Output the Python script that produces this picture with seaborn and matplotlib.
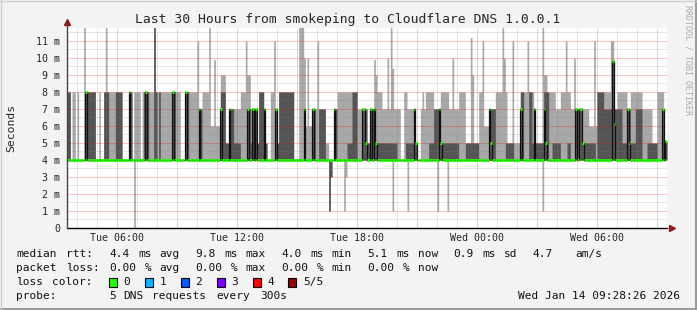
import re
import numpy as np
import matplotlib
matplotlib.use("Agg")
import matplotlib.pyplot as plt
from matplotlib.patches import Rectangle
from matplotlib.lines import Line2D
import seaborn as sns

# ---------------- data (ms, 5-minute steps) ----------------
START_HOUR = 3.517          # first step, hours after Tue 00:00
STEP_MIN = 5
BASE_RTT = 4.0              # smoke floor (fastest pings)

seg_steps = [2, 1, 2, 1, 1, 3, 1, 1, 5, 2,
             1, 2, 1, 1, 1, 4, 4, 4, 1, 1,
             1, 4, 1, 1, 1, 1, 1, 3, 1, 1,
             1, 1, 7, 1, 1, 3, 3, 1, 1, 5,
             1, 1, 1, 4, 1, 2, 1, 3, 1, 2,
             2, 1, 2, 4, 3, 1, 1, 1, 1, 1,
             1, 1, 1, 3, 1, 1, 2, 2, 1, 1,
             1, 9, 3, 3, 1, 1, 1, 2, 1, 1,
             1, 1, 4, 2, 3, 1, 1, 6, 3, 3,
             3, 2,
             1, 2, 1, 1, 1, 1, 3, 3, 1, 1,
             1, 1, 2, 2, 2, 1, 1, 4, 1, 1,
             2, 1, 1, 1, 2, 3, 3, 1, 1, 4,
             2, 1, 3, 4, 3, 1, 1, 3, 2, 1,
             3, 1, 1, 2, 4, 1, 1, 1, 3, 1,
             4, 1, 1, 2, 1, 2, 1, 1, 4, 1,
             1, 1, 1, 2, 2, 3, 3, 1, 2, 2,
             1, 1, 1, 2, 1, 3, 3, 1, 1, 4,
             4, 1, 1, 1, 1, 3, 3, 1, 1, 3,
             4, 3, 3, 3, 3, 1, 1, 1]

seg_median = [4, 4, 4, 4, 4, 4, 4, 8, 4, 4,
              4, 4, 4, 4, 4, 4, 4, 4, 8, 4,
              4, 4, 4, 4, 4, 8, 4, 4, 4, 4,
              4, 4, 4, 8, 4, 4, 4, 8, 4, 4,
              4, 7, 4, 4, 4, 4, 4, 4, 7, 4,
              4, 7, 4, 4, 4, 4, 7, 4, 4, 7,
              4, 7, 4, 4, 7, 4, 4, 4, 4, 7,
              4, 4, 4, 4, 7, 4, 4, 4, 7, 4,
              4, 4, 4, 4, 4, 7, 4, 4, 4, 4,
              4, 7,
              5, 4, 7, 4, 7, 5, 4, 4, 4, 4,
              4, 4, 4, 4, 4, 4, 4, 4, 7, 5,
              4, 4, 4, 4, 4, 4, 4, 7, 5, 4,
              4, 4, 4, 4, 4, 4, 4, 4, 4, 4,
              4, 7, 5, 4, 4, 4, 4, 4, 4, 4,
              4, 7, 4, 4, 4, 4, 4, 7, 4, 4,
              7, 5, 4, 4, 4, 4, 4, 4, 4, 4,
              4, 7, 4, 7, 5, 4, 4, 4, 4, 4,
              4, 4, 9.8, 6.1, 4, 4, 4, 7, 5, 4,
              4, 4, 4, 4, 4, 7, 4, 5.1]

seg_dark = [8, 4, 4, 4, 4, 4, 4, 8, 8, 4,
            4, 4, 8, 8, 8, 4, 8, 4, 8, 8,
            4, 4, 4, 4, 8, 8, 8, 4, 11.8, 8,
            4, 8, 4, 8, 8, 4, 4, 8, 8, 4,
            4, 7, 7, 4, 4, 4, 4, 4, 8, 8,
            5, 7, 7, 5, 4, 4, 7, 7, 5, 7,
            7, 7, 5, 8, 7, 5, 4, 4, 4, 7,
            5, 8, 4, 4, 7, 4, 4, 4, 7, 7,
            4, 4, 7, 4, 4, 7, 7, 4, 5, 8,
            4, 7,
            7, 5, 7, 7, 7, 5, 5, 5, 5, 5,
            5, 5, 5, 4, 4, 4, 5, 5, 7, 5,
            4, 4, 4, 4, 4, 5, 7, 7, 5, 5,
            5, 5, 5, 4, 5, 5, 5, 5, 4, 4,
            4, 7, 7, 7, 4, 4, 4, 5, 5, 5,
            4, 8, 8, 4, 4, 8, 5, 7, 5, 5,
            8, 8, 8, 4, 5, 5, 4, 4, 5, 4,
            4, 7, 7, 7, 5, 5, 5, 5, 4, 8,
            7, 7, 9.8, 7, 7, 7, 5, 7, 7, 5,
            7, 4, 5, 5, 4, 7, 5, 5.1]

seg_top = [8, 4, 8, 4, 8, 4, 11.8, 8, 8, 4,
           8, 4, 8, 11.8, 8, 8, 8, 4, 8, 8,
           4, 8, 4, 8, 8, 8, 8, 8, 11.8, 8,
           8, 8, 8, 8, 8, 8, 4, 8, 8, 8,
           11, 7, 7, 8, 11.8, 6, 9.9, 6, 9, 9,
           5, 7, 7, 7, 8, 11, 9, 9, 7, 7,
           7, 7, 5, 8, 7, 5, 4, 8, 11, 7,
           5, 8, 4, 11.8, 10, 6, 10, 6, 7, 7,
           7, 11, 7, 5, 4, 7, 7, 8, 8, 8,
           7, 7,
           7, 5, 7, 7, 9.9, 9, 8, 7, 10, 7,
           11.8, 9.4, 7, 7, 4, 8, 8, 7, 7, 5,
           4, 7, 8, 7, 8, 8, 7, 7, 8, 8,
           7, 10, 7, 8, 5, 11.2, 9, 5, 8, 11,
           6, 7, 7, 7, 8, 11.8, 10, 8, 5, 11,
           5, 8, 8, 8, 11, 8, 8, 7, 5, 11.8,
           9, 9, 8, 8, 8, 7, 8, 11, 8, 7,
           10, 7, 7, 7, 7, 7, 6, 11, 6, 8,
           8, 11, 11, 7, 7, 8, 8, 7, 7, 8,
           8, 7, 7, 5, 8, 8, 5, 5.1]

# pings faster than the usual floor (step index, lowest value, inner/dark band?)
dip_step = [40, 157, 158, 166, 167, 195, 204, 222, 228, 285]
dip_low = [0.0, 1.0, 3.0, 1.0, 3.0, 1.0, 1.0, 1.0, 1.0, 1.0]
dip_dark = [False, True, True, False, False, False, False, False, False, False]

x_tick_hours = [6, 12, 18, 24, 30]
x_tick_labels = ["Tue 06:00", "Tue 12:00", "Tue 18:00", "Wed 00:00", "Wed 06:00"]
y_tick_values = list(range(0, 12))
y_tick_labels = ["0"] + [f"{v} m" for v in range(1, 12)]

title = "Last 30 Hours from smokeping to Cloudflare DNS 1.0.0.1"
legend_rtt = "median rtt:  4.4 ms avg  9.8 ms max  4.0 ms min  5.1 ms now  0.9 ms sd  4.7   am/s"
legend_loss = "packet loss: 0.00 % avg  0.00 % max  0.00 % min  0.00 % now"
legend_color = "loss color:    0    1    2    3    4    5/5"
loss_colors = ["#26ff00", "#00b8ff", "#0059ff", "#7e00ff", "#ff0000", "#a10000"]
legend_probe = "probe:       5 DNS requests every 300s"
stamp = "Wed Jan 14 09:28:26 2026"

# ---------------- build per-step arrays ----------------
n = np.array(seg_steps)
med = np.repeat(np.array(seg_median, float), n)
dark = np.repeat(np.array(seg_dark, float), n)
top = np.repeat(np.array(seg_top, float), n)
N = len(med)
light_lo = np.full(N, BASE_RTT)
dark_lo = np.full(N, BASE_RTT)
for i, lo, dk in zip(dip_step, dip_low, dip_dark):
    light_lo[i] = lo
    if dk:
        dark_lo[i] = lo
edges = START_HOUR + np.arange(N + 1) * STEP_MIN / 60.0

def ext(a):
    return np.append(a, a[-1])

# ---------------- figure ----------------
sns.set_theme(style="white")
MONO = ["DejaVu Sans Mono"]
plt.rcParams["font.family"] = MONO

W, H = 697, 310
fig = plt.figure(figsize=(W / 100, H / 100), dpi=100, facecolor="#f3f3f3")
ax = fig.add_axes([67 / W, 1 - 228 / H, 600 / W, 200 / H])
ax.set_facecolor("white")

LIGHT = "#a8a8a8"
DARK = "#555555"
ax.fill_between(edges, ext(light_lo), ext(np.maximum(top, BASE_RTT)), step="post",
                color=LIGHT, lw=0, zorder=1)
ax.fill_between(edges, ext(dark_lo), ext(np.maximum(dark, BASE_RTT)), step="post",
                color=DARK, lw=0, zorder=1.5)

sns.lineplot(x=edges, y=ext(med), drawstyle="steps-post", color="#101010", lw=0.9,
             ax=ax, estimator=None, sort=False, zorder=3)
ax.hlines(med, edges[:-1], edges[1:], colors="#26ff00", lw=2.2, zorder=4)

ax.set_xlim(START_HOUR, START_HOUR + 30)
ax.set_ylim(0, 11.76)

maj = np.arange(6, 34, 3)
ax.set_xticks(maj)
ax.set_xticklabels([x_tick_labels[x_tick_hours.index(h)] if h in x_tick_hours else "" for h in maj])
ax.set_xticks(np.arange(4, 34, 1), minor=True)
ax.set_yticks(y_tick_values)
ax.set_yticklabels(y_tick_labels)
ax.set_yticks(np.arange(0.5, 11.6, 1.0), minor=True)

# rrdtool-style grid drawn over the smoke, semi-transparent dotted
ax.set_axisbelow(False)
ax.grid(which="major", color="#ff0000", alpha=0.45, ls=(0, (1, 1)), lw=0.72)
ax.grid(which="minor", color="#808080", alpha=0.4, ls=(0, (1, 1)), lw=0.72)
ax.tick_params(which="both", length=0)
ax.tick_params(axis="y", pad=5, labelsize=7.2)
ax.tick_params(axis="x", pad=3.5, labelsize=7.2)
for lab in ax.get_xticklabels() + ax.get_yticklabels():
    lab.set_fontfamily(MONO)
for s in ax.spines.values():
    s.set_visible(False)

# axes lines and arrows
ax.add_line(Line2D([0, 1.0], [0, 0], transform=ax.transAxes, color="black", lw=1,
                   clip_on=False, zorder=5))
ax.add_line(Line2D([0, 0], [0, 1.025], transform=ax.transAxes, color="#444444", lw=1,
                   clip_on=False, zorder=5))
ax.plot([1.008], [0], marker=">", ms=4, color="#8b1a1a", transform=ax.transAxes,
        clip_on=False, zorder=6)
ax.plot([0], [1.03], marker="^", ms=4, color="#8b1a1a", transform=ax.transAxes,
        clip_on=False, zorder=6)

# texts
fig.text(348 / W, 1 - 19 / H, title, ha="center", va="center", fontsize=9.4, family=MONO)
fig.text(11 / W, 1 - 128 / H, "Seconds", rotation=90, ha="center", va="center",
         fontsize=8.2, family=MONO)
fig.text(688 / W, 1 - 60 / H, "RRDTOOL / TOBI OETIKER", rotation=270, ha="center",
         va="center", fontsize=6, color="#aaaaaa", family=MONO)

CHAR_W = 7.17
FS = 8.0

def mono_line(ypix, s):
    for m in re.finditer(r"\S+", s):
        fig.text((16 + m.start() * CHAR_W) / W, 1 - ypix / H, m.group(), ha="left",
                 va="center", fontsize=FS, family=MONO, color="#111111")

mono_line(254, legend_rtt)
mono_line(268, legend_loss)
mono_line(282, legend_color)
mono_line(296, legend_probe)
fig.text(680 / W, 1 - 296 / H, stamp, ha="right", va="center", fontsize=FS, family=MONO,
         color="#111111")

for k, c in enumerate(loss_colors):
    x0 = 16 + (13 + 5 * k) * CHAR_W
    fig.add_artist(Rectangle((x0 / W, 1 - 287 / H), 8 / W, 9 / H, transform=fig.transFigure,
                             facecolor=c, edgecolor="black", lw=0.8))

# frame
fig.add_artist(Line2D([0, 1], [0.003, 0.003], transform=fig.transFigure, color="#9a9a9a", lw=1.5))
fig.add_artist(Line2D([0.998, 0.998], [0, 1], transform=fig.transFigure, color="#9a9a9a", lw=1.5))
fig.add_artist(Line2D([0, 1], [0.998, 0.998], transform=fig.transFigure, color="#d0d0d0", lw=1))
fig.add_artist(Line2D([0.001, 0.001], [0, 1], transform=fig.transFigure, color="#d0d0d0", lw=1))

fig.savefig("out.png", dpi=100, facecolor=fig.get_facecolor())
